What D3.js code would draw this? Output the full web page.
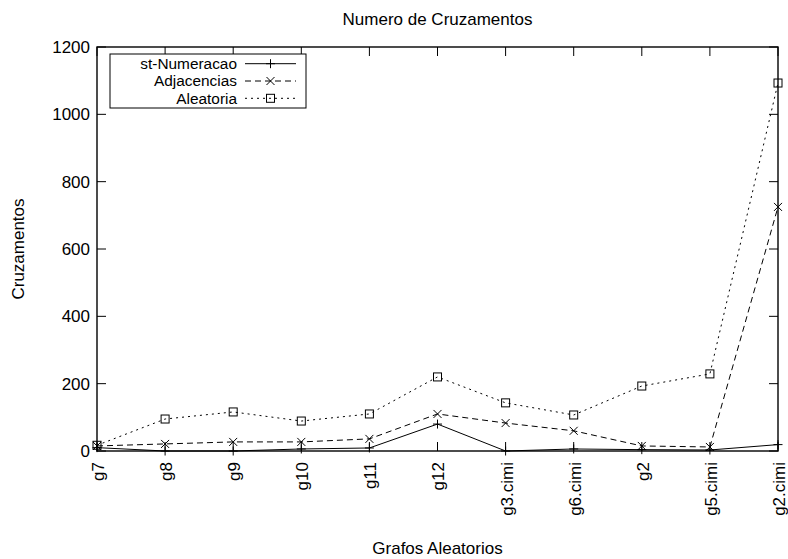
<!DOCTYPE html>
<html>
<head>
<meta charset="utf-8">
<script src="https://cdn.jsdelivr.net/npm/d3@7"></script>
<style>
  body { margin: 0; background: #fff; }
  svg { display: block; font-family: "Liberation Sans", Arial, sans-serif; }
  text { fill: #000; font-size: 17px; }
  .legend text { font-size: 15.4px; }
</style>
</head>
<body>
<div id="chart"></div>
<script>
// Dados
const grafos = ["g7", "g8", "g9", "g10", "g11", "g12", "g3.cimi", "g6.cimi", "g2", "g5.cimi", "g2.cimi"];
const stNumeracao = [10, 0, 0, 6, 9, 80, 0, 6, 4, 3, 19];
const adjacencias = [15, 21, 27, 27, 36, 110, 83, 60, 15, 12, 725];
const aleatoria = [17, 95, 116, 89, 110, 220, 143, 107, 193, 229, 1093];
const yTicks = [0, 200, 400, 600, 800, 1000, 1200];

const series = [
  { name: "st-Numeracao", values: stNumeracao, dash: null, marker: "plus" },
  { name: "Adjacencias", values: adjacencias, dash: "6,4", marker: "cross" },
  { name: "Aleatoria", values: aleatoria, dash: "2,4", marker: "square" },
];

const width = 788, height = 559;
const margin = { top: 47, right: 10, bottom: 108, left: 97 };
const iw = width - margin.left - margin.right;
const ih = height - margin.top - margin.bottom;

const svg = d3.select("#chart").append("svg")
  .attr("width", width).attr("height", height);

const g = svg.append("g").attr("transform", `translate(${margin.left},${margin.top})`);

const x = d3.scalePoint().domain(grafos).range([0, iw]);
const y = d3.scaleLinear().domain([0, 1200]).range([ih, 0]);

const tick = 9;

// Marcas dos eixos (para dentro, espelhadas como no gnuplot)
yTicks.forEach(v => {
  g.append("line").attr("x1", 0).attr("x2", tick).attr("y1", y(v)).attr("y2", y(v))
    .attr("stroke", "#000");
  g.append("line").attr("x1", iw).attr("x2", iw - tick).attr("y1", y(v)).attr("y2", y(v))
    .attr("stroke", "#000");
  g.append("text").attr("x", -7).attr("y", y(v)).attr("dy", "0.35em")
    .attr("text-anchor", "end").text(v);
});

grafos.forEach(c => {
  g.append("line").attr("x1", x(c)).attr("x2", x(c)).attr("y1", ih).attr("y2", ih - tick)
    .attr("stroke", "#000");
  g.append("line").attr("x1", x(c)).attr("x2", x(c)).attr("y1", 0).attr("y2", tick)
    .attr("stroke", "#000");
  g.append("text")
    .attr("transform", `translate(${x(c) + 1},${ih + 11}) rotate(-90)`)
    .attr("dy", "0.35em")
    .attr("text-anchor", "end").text(c);
});

// Moldura
g.append("rect").attr("width", iw).attr("height", ih)
  .attr("fill", "none").attr("stroke", "#000").attr("stroke-width", 1.4);

function drawMarker(sel, type, cx, cy) {
  if (type === "plus") {
    sel.append("path").attr("d", `M${cx - 4.5},${cy}H${cx + 4.5}M${cx},${cy - 4.5}V${cy + 4.5}`)
      .attr("stroke", "#000").attr("fill", "none");
  } else if (type === "cross") {
    sel.append("path").attr("d", `M${cx - 4},${cy - 4}L${cx + 4},${cy + 4}M${cx - 4},${cy + 4}L${cx + 4},${cy - 4}`)
      .attr("stroke", "#000").attr("fill", "none");
  } else {
    sel.append("rect").attr("x", cx - 4).attr("y", cy - 4).attr("width", 8).attr("height", 8)
      .attr("stroke", "#000").attr("fill", "none");
  }
}

series.forEach(s => {
  const line = d3.line().x((d, i) => x(grafos[i])).y(d => y(d));
  g.append("path").datum(s.values)
    .attr("fill", "none").attr("stroke", "#000").attr("stroke-width", 1)
    .attr("stroke-dasharray", s.dash)
    .attr("d", line);
  s.values.forEach((v, i) => drawMarker(g, s.marker, x(grafos[i]), y(v)));
});

// Legenda
const lg = svg.append("g").attr("class", "legend").attr("transform", "translate(110,54)");
lg.append("rect").attr("width", 196).attr("height", 54)
  .attr("fill", "#fff").attr("stroke", "#000");
series.forEach((s, i) => {
  const ly = 9.7 + i * 17.3;
  lg.append("text").attr("x", 127).attr("y", ly).attr("dy", "0.35em")
    .attr("text-anchor", "end").text(s.name);
  lg.append("line").attr("x1", 135).attr("x2", 186).attr("y1", ly).attr("y2", ly)
    .attr("stroke", "#000").attr("stroke-dasharray", s.dash);
  drawMarker(lg, s.marker, 160.5, ly);
});

// Títulos
svg.append("text").attr("x", margin.left + iw / 2).attr("y", 19).attr("dy", "0.35em")
  .attr("text-anchor", "middle").text("Numero de Cruzamentos");
svg.append("text").attr("x", margin.left + iw / 2).attr("y", 548).attr("dy", "0.35em")
  .attr("text-anchor", "middle").text("Grafos Aleatorios");
svg.append("text").attr("transform", `translate(18,${margin.top + ih / 2}) rotate(-90)`)
  .attr("dy", "0.35em").attr("text-anchor", "middle").text("Cruzamentos");
</script>
</body>
</html>
